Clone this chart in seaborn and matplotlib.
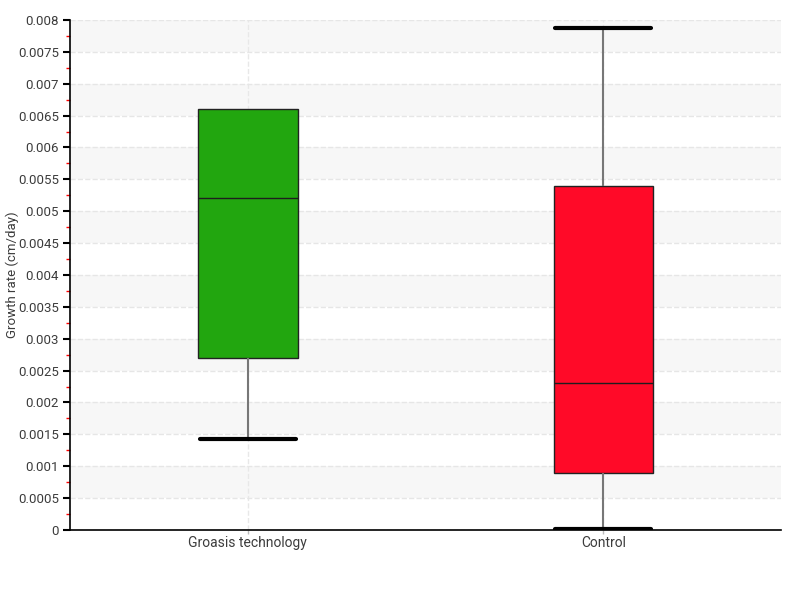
import numpy as np
import pandas as pd
import seaborn as sns
import matplotlib.pyplot as plt
from matplotlib.ticker import MultipleLocator

# five-number summaries (min, q1, median, q3, max)
groups = ['Groasis technology', 'Control']
groasis_vals = [0.00143, 0.0027, 0.0052, 0.0066, 0.0066]
control_vals = [0.00002, 0.0009, 0.0023, 0.0054, 0.00788]
box_colors = ['#22a60f', '#ff0a28']

df = pd.DataFrame({
    'group': [groups[0]] * len(groasis_vals) + [groups[1]] * len(control_vals),
    'rate': groasis_vals + control_vals,
})

sns.set_style('white')
plt.rcParams['font.family'] = ['Roboto', 'DejaVu Sans']

fig = plt.figure(figsize=(8, 6), dpi=100)
ax = fig.add_axes([0.0875, 0.1167, 0.8888, 0.85])

# alternating background bands
for lo in np.arange(0.0005, 0.008, 0.001):
    ax.axhspan(lo, lo + 0.0005, color='#f7f7f7', zorder=0, lw=0)

sns.boxplot(data=df, x='group', y='rate', hue='group', palette=box_colors,
            saturation=1, legend=False, whis=(0, 100), width=0.28, ax=ax,
            linewidth=1,
            boxprops=dict(edgecolor='#222222', linewidth=1),
            whiskerprops=dict(color='#777777', linewidth=1.5),
            capprops=dict(color='black', linewidth=3),
            medianprops=dict(color='#1e1e1e', linewidth=1))

# caps as wide as the boxes; drop the zero-length whisker cap
summaries = [groasis_vals, control_vals]
for line in ax.lines:
    if line.get_linewidth() == 3:
        xd = line.get_xdata()
        c = round(float(np.mean(xd)))
        line.set_xdata([c - 0.135, c + 0.135])
        s = summaries[c]
        y = line.get_ydata()[0]
        if s[3] == s[4] and abs(y - s[4]) < 1e-9:
            line.set_visible(False)

ax.set_xlim(-0.5, 1.5)
ax.set_ylim(0, 0.008)
ax.yaxis.set_major_locator(MultipleLocator(0.0005))
ax.yaxis.set_minor_locator(MultipleLocator(0.00025))
ax.set_yticklabels([f'{v:g}' for v in ax.get_yticks()])

ax.grid(axis='y', which='major', color='#e6e6e6', linestyle='--', linewidth=1, zorder=1)
ax.grid(axis='x', which='major', color='#e8e8e8', linestyle='--', linewidth=1, zorder=1)
ax.set_axisbelow(True)

ax.tick_params(axis='y', which='major', length=5, width=1.5, color='black',
               labelsize=9.5, labelcolor='#3c3c3c', left=True, pad=3)
ax.tick_params(axis='y', which='minor', length=3, width=1, color='red', left=True)
ax.tick_params(axis='x', length=3, width=1, color='#bbbbbb', labelsize=10,
               labelcolor='#3c3c3c', bottom=True, pad=1)

for side in ['top', 'right']:
    ax.spines[side].set_visible(False)
for side in ['left', 'bottom']:
    ax.spines[side].set_color('black')
    ax.spines[side].set_linewidth(1.2)

ax.set_xlabel('')
ax.set_ylabel('Growth rate (cm/day)', fontsize=9.5, color='#3c3c3c')
ax.yaxis.set_label_coords(-0.072, 0.5)

fig.savefig('out.png', dpi=100)
